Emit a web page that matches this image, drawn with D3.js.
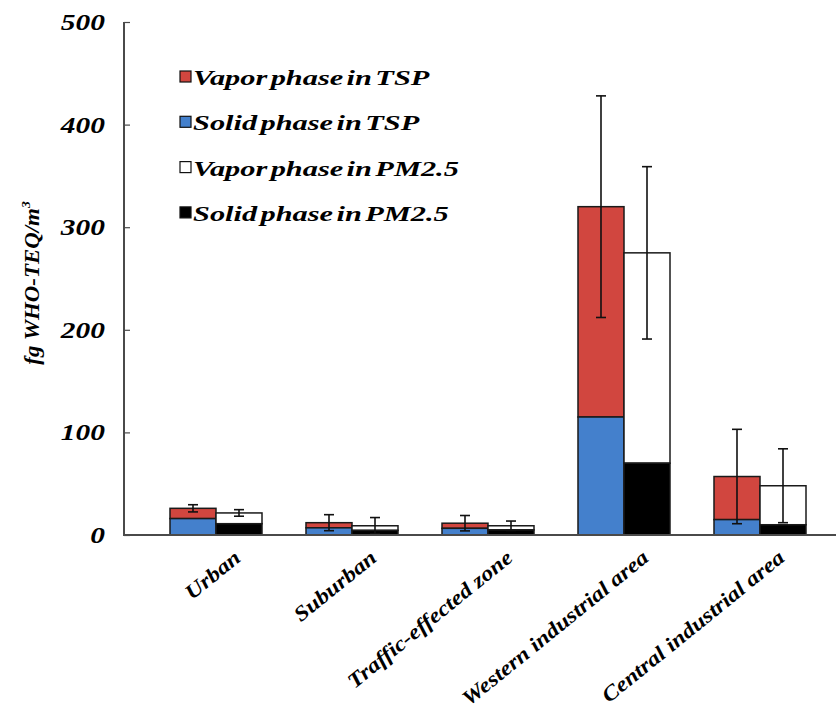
<!DOCTYPE html>
<html>
<head>
<meta charset="utf-8">
<script src="https://cdn.jsdelivr.net/npm/d3@7"></script>
<style>
  html, body { margin: 0; padding: 0; background: #fff; }
  svg { display: block; }
</style>
</head>
<body>
<svg id="chart" width="836" height="715"></svg>
<script>
// Sampling sites
const categories = ["Urban", "Suburban", "Traffic-effected zone", "Western industrial area", "Central industrial area"];

// fg WHO-TEQ/m3, stacked: solid phase at the bottom, vapor phase on top
const tspSolid   = [16, 7, 6.5, 115, 15];
const tspVapor   = [10, 5, 5, 205, 42];
const pm25Solid  = [11, 4.5, 5, 70, 10];
const pm25Vapor  = [10.5, 4.5, 4, 205, 38];

// standard deviation of the total (solid + vapor)
const tspErr  = [3.5, 7.8, 7.5, 108, 46];
const pm25Err = [3.2, 8, 4.6, 84, 36];

const yTicks = [0, 100, 200, 300, 400, 500];

const legendItems = [
  { label: "Vapor phase in TSP",   fill: "#d1463f" },
  { label: "Solid phase in TSP",   fill: "#4480cc" },
  { label: "Vapor phase in PM2.5", fill: "#ffffff" },
  { label: "Solid phase in PM2.5", fill: "#000000" }
];

const FONT = "Liberation Serif";
const svg = d3.select("#chart");

// bold italic serif text helper
function styled(sel, size) {
  return sel.attr("font-family", FONT).attr("font-weight", "bold")
    .attr("font-style", "italic").attr("font-size", size).attr("fill", "#000");
}

const y = d3.scaleLinear().domain([0, 500]).range([535, 22]);
const x = d3.scaleBand().domain(categories).range([148, 828])
  .paddingInner(0.3235).paddingOuter(0.3235 / 2);
const sub = d3.scaleBand().domain(["TSP", "PM2.5"]).range([0, x.bandwidth()]);

const rows = categories.map((c, i) => ({
  cat: c,
  groups: [
    { key: "TSP", solid: tspSolid[i], vapor: tspVapor[i], err: tspErr[i],
      solidFill: "#4480cc", vaporFill: "#d1463f" },
    { key: "PM2.5", solid: pm25Solid[i], vapor: pm25Vapor[i], err: pm25Err[i],
      solidFill: "#000000", vaporFill: "#ffffff" }
  ]
}));

const gBars = svg.append("g");
rows.forEach(r => {
  r.groups.forEach(g => {
    const x0 = x(r.cat) + sub(g.key);
    const w = sub.bandwidth();
    const total = g.solid + g.vapor;
    gBars.append("rect")
      .attr("x", x0).attr("width", w)
      .attr("y", y(total)).attr("height", y(g.solid) - y(total))
      .attr("fill", g.vaporFill).attr("stroke", "#1a1a1a").attr("stroke-width", 1.5);
    gBars.append("rect")
      .attr("x", x0).attr("width", w)
      .attr("y", y(g.solid)).attr("height", y(0) - y(g.solid))
      .attr("fill", g.solidFill).attr("stroke", "#1a1a1a").attr("stroke-width", 1.5);
  });
});

// Error bars centred on each stacked bar
const gErr = svg.append("g").attr("stroke", "#111").attr("stroke-width", 1.6);
rows.forEach(r => {
  r.groups.forEach(g => {
    const cx = x(r.cat) + sub(g.key) + sub.bandwidth() / 2;
    const total = g.solid + g.vapor;
    const hi = y(total + g.err), lo = y(Math.max(0, total - g.err));
    gErr.append("line").attr("x1", cx).attr("x2", cx).attr("y1", hi).attr("y2", lo);
    gErr.append("line").attr("x1", cx - 5).attr("x2", cx + 5).attr("y1", hi).attr("y2", hi);
    gErr.append("line").attr("x1", cx - 5).attr("x2", cx + 5).attr("y1", lo).attr("y2", lo);
  });
});

// Axes
const axisColor = "#4a4a4a";
svg.append("line").attr("x1", 124).attr("x2", 124).attr("y1", y(500)).attr("y2", y(0))
  .attr("stroke", axisColor).attr("stroke-width", 2);
svg.append("line").attr("x1", 123).attr("x2", 836).attr("y1", y(0)).attr("y2", y(0))
  .attr("stroke", axisColor).attr("stroke-width", 2);

const yAxis = svg.append("g").attr("transform", "translate(124,0)")
  .call(d3.axisRight(y).tickValues(yTicks).tickSize(6).tickFormat(""));
yAxis.select(".domain").remove();
yAxis.selectAll(".tick line").attr("stroke", axisColor).attr("stroke-width", 1.2);

// Tick labels, drawn wide
styled(svg.append("g").selectAll("text").data(yTicks).join("text"), 23)
  .attr("text-anchor", "end")
  .attr("transform", d => `translate(105,${y(d) + 8}) scale(1.28,1)`)
  .text(d => d);

// Y axis title
const yt = styled(svg.append("text"), 22)
  .attr("transform", "translate(39,283) rotate(-90) scale(1.04,1)")
  .attr("text-anchor", "middle");
yt.append("tspan").text("fg WHO-TEQ/m");
yt.append("tspan").attr("font-size", 13).attr("dy", -9).text("3");

// Category labels
styled(svg.append("g").selectAll("text").data(categories).join("text"), 21)
  .attr("text-anchor", "end")
  .attr("transform", d => `translate(${x(d) + x.bandwidth() / 2 + 26},560) rotate(-39) scale(1.15,1)`)
  .text(d => d);

// Legend
const lg = svg.append("g");
legendItems.forEach((it, i) => {
  const yy = 77 + i * 45.3;
  lg.append("rect").attr("x", 180).attr("y", yy - 6).attr("width", 11).attr("height", 11)
    .attr("fill", it.fill).attr("stroke", "#111").attr("stroke-width", 1.2);
  styled(lg.append("text"), 22)
    .attr("transform", `translate(193,${yy + 8}) scale(1.38,1)`)
    .attr("word-spacing", -3)
    .text(it.label);
});
</script>
</body>
</html>
